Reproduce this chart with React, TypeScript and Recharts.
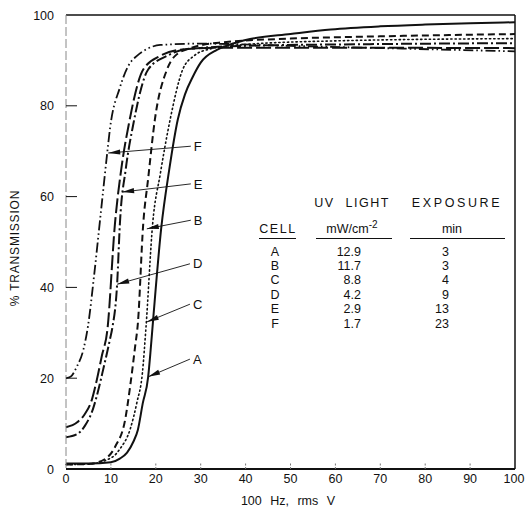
import { LineChart, Line, XAxis, YAxis, ReferenceLine, Label } from "recharts";

interface Pt {
  volts: number;
  pct: number;
}

const X_TICKS = [0, 10, 20, 30, 40, 50, 60, 70, 80, 90, 100];
const Y_TICKS = [0, 20, 40, 60, 80, 100];

const toPts = (rows: number[][]): Pt[] => rows.map(([volts, pct]) => ({ volts, pct }));

// curves, [rms V, % transmission]
const CELL_A = toPts([
  [0, 1.2], [5, 1.2], [10, 1.5], [12, 2.3], [13.6, 3.6], [15, 6], [16, 8.6],
  [17.1, 14.5], [18.3, 20.3], [18.8, 25.6], [19.4, 32.8], [21.2, 53], [23, 66],
  [24.9, 77], [26.5, 82.5], [28.3, 86.5], [30, 89.5], [33.6, 92.3], [36, 93.3],
  [41, 94.7], [50, 95.8], [59, 96.8], [70, 97.5], [80, 97.9], [90, 98.2], [100, 98.4],
]);
const CELL_B = toPts([
  [0, 1.0], [5, 1.1], [8.7, 2.2], [11, 5], [13.2, 11], [14.3, 18.3], [15.4, 27],
  [16, 32], [17.2, 54], [18.3, 64], [19.8, 77], [22.5, 88], [24.3, 91], [28, 92.8],
  [35, 94], [50, 94.8], [70, 95.3], [100, 95.8],
]);
const CELL_C = toPts([
  [0, 1.0], [5, 1.1], [10.3, 2.6], [12, 4.4], [14.3, 8.8], [15.8, 14.7], [17, 21],
  [17.8, 31], [19.3, 54], [21, 65], [23.2, 77], [26, 88], [28.5, 91], [32, 92.5],
  [40, 93.5], [60, 94.3], [100, 94.8],
]);
const CELL_D = toPts([
  [0, 7], [2.5, 7.7], [4.2, 9.5], [6, 13.2], [7.1, 17], [8.3, 22], [9.8, 28.6],
  [10.3, 31], [11.4, 41], [12, 54], [13.3, 66], [15, 76], [18.3, 88], [22.5, 91],
  [27, 92.5], [40, 93.2], [70, 93.6], [100, 93.8],
]);
const CELL_E = toPts([
  [0, 9.2], [2.5, 10.3], [4.2, 12.1], [5.8, 15.4], [6.9, 19.8], [8, 25], [9.2, 30.5],
  [10.9, 54], [12.3, 66], [14, 76], [17.2, 88], [21, 91], [25, 92.3], [35, 92.8],
  [60, 92.8], [100, 92.7],
]);
const CELL_F = toPts([
  [0, 20], [1, 20.3], [2.4, 22.5], [3.9, 26.4], [4.9, 31.5], [6.3, 43], [7.6, 55],
  [9.2, 69.8], [9.8, 75], [12, 84], [14, 89], [15.8, 91], [18, 92.5], [21, 93.4],
  [30, 93.7], [50, 93.2], [75, 92.6], [100, 92.0],
]);

// legend table
const CELLS = ["A", "B", "C", "D", "E", "F"];
const UV_LIGHT = ["12.9", "11.7", "8.8", "4.2", "2.9", "1.7"];
const EXPOSURE = ["3", "3", "4", "9", "13", "23"];

// callout arrows: label end -> tip, in data units
const CALLOUTS = [
  { letter: "F", from: { x: 27.8, y: 71.1 }, to: { x: 9.4, y: 69.6 } },
  { letter: "E", from: { x: 27.8, y: 62.8 }, to: { x: 12.5, y: 61 } },
  { letter: "B", from: { x: 27.8, y: 54.8 }, to: { x: 18, y: 52.9 } },
  { letter: "D", from: { x: 27.6, y: 45.2 }, to: { x: 11.4, y: 40.7 } },
  { letter: "C", from: { x: 27.6, y: 36.3 }, to: { x: 18, y: 32.4 } },
  { letter: "A", from: { x: 27.6, y: 24.2 }, to: { x: 18.3, y: 20.3 } },
];

const SERIES = [
  { name: "A", data: CELL_A, dash: undefined, width: 2 },
  { name: "B", data: CELL_B, dash: "7 4", width: 2 },
  { name: "C", data: CELL_C, dash: "1.3 3", width: 1.6 },
  { name: "D", data: CELL_D, dash: "11 3 2 3", width: 2 },
  { name: "E", data: CELL_E, dash: "15 4", width: 2 },
  { name: "F", data: CELL_F, dash: "10 3 1.6 3 1.6 3", width: 1.8 },
];

const FONT = "'Liberation Sans', Arial, sans-serif";
const INK = "#111";

const YTick = (props: any) => {
  const { x, y, payload } = props;
  const v = payload.value;
  return (
    <g>
      {v > 0 && v < 100 && <line x1={x} x2={x + 11} y1={y} y2={y} stroke={INK} strokeWidth={1} />}
      <text x={x - 12} y={y} dy="0.36em" textAnchor="end" fontSize={12.5} fontFamily={FONT} fill={INK}>
        {v}
      </text>
    </g>
  );
};

const XTick = (props: any) => {
  const { x, y, payload } = props;
  const v = payload.value;
  return (
    <g>
      {v > 0 && v < 100 && (
        <line x1={x} x2={x} y1={y} y2={y - 7} stroke="#777" strokeWidth={1} strokeDasharray="2 1.5" />
      )}
      <text x={x} y={y + 14} textAnchor="middle" fontSize={12.5} fontFamily={FONT} fill={INK}>
        {v}
      </text>
    </g>
  );
};

const arrowShape = (letter: string) => (props: any) => {
  const { x1, y1, x2, y2 } = props;
  const dx = x2 - x1;
  const dy = y2 - y1;
  const len = Math.hypot(dx, dy) || 1;
  const ux = dx / len;
  const uy = dy / len;
  const hl = 12;
  const hw = 2.6;
  const bx = x2 - ux * hl;
  const by = y2 - uy * hl;
  const pts = `${x2},${y2} ${bx - uy * hw},${by + ux * hw} ${bx + uy * hw},${by - ux * hw}`;
  return (
    <g>
      <line x1={x1} y1={y1} x2={x2} y2={y2} stroke={INK} strokeWidth={0.9} />
      <polygon points={pts} fill={INK} />
      <text x={x1 + 3} y={y1} dy="0.36em" fontSize={13} fontFamily={FONT} fill={INK}>
        {letter}
      </text>
    </g>
  );
};

const centered = (x: number, y: number): React.CSSProperties => ({
  position: "absolute",
  left: x,
  top: y,
  transform: "translate(-50%, -50%)",
  whiteSpace: "nowrap",
  lineHeight: 1,
});

const rightAt = (x: number, y: number): React.CSSProperties => ({
  position: "absolute",
  right: 526 - x,
  top: y,
  transform: "translateY(-50%)",
  whiteSpace: "nowrap",
  lineHeight: 1,
});

const rule = (x1: number, x2: number, y: number): React.CSSProperties => ({
  position: "absolute",
  left: x1,
  top: y,
  width: x2 - x1,
  height: 1.3,
  background: INK,
});

export default function App() {
  const rowY = (i: number) => 251.5 + i * 14.4;
  return (
    <div
      style={{
        position: "absolute",
        left: 0,
        top: 0,
        width: 526,
        height: 517,
        background: "#fff",
        fontFamily: FONT,
        color: INK,
        fontSize: 12.5,
      }}
    >
      <LineChart width={526} height={517} margin={{ top: 15, right: 11, bottom: 0, left: 0 }}>
        <XAxis
          type="number"
          dataKey="volts"
          domain={[0, 100]}
          ticks={X_TICKS}
          height={48}
          tickSize={0}
          tickMargin={0}
          tickLine={false}
          tick={<XTick />}
          axisLine={{ stroke: INK, strokeWidth: 2 }}
          allowDuplicatedCategory={false}
        >
          <Label
            content={() => (
              <text x={288} y={505} textAnchor="middle" fontSize={12.5} fontFamily={FONT} fill={INK} wordSpacing={5}>
                100 Hz, rms V
              </text>
            )}
          />
        </XAxis>
        <YAxis
          type="number"
          domain={[0, 100]}
          ticks={Y_TICKS}
          width={66}
          tickSize={0}
          tickMargin={0}
          tickLine={false}
          tick={<YTick />}
          axisLine={{ stroke: "#888", strokeWidth: 1, strokeDasharray: "9 3" }}
        >
          <Label
            content={() => (
              <text
                x={15}
                y={248}
                transform="rotate(-90 15 248)"
                textAnchor="middle"
                dy="0.36em"
                fontSize={12}
                letterSpacing={0.8}
                fontFamily={FONT}
                fill={INK}
              >
                % TRANSMISSION
              </text>
            )}
          />
        </YAxis>
        <ReferenceLine y={100} stroke={INK} strokeWidth={1.5} />
        <ReferenceLine x={100} stroke={INK} strokeWidth={1.5} />
        {SERIES.map((s) => (
          <Line
            key={s.name}
            data={s.data}
            dataKey="pct"
            type="monotone"
            stroke={INK}
            strokeWidth={s.width}
            strokeDasharray={s.dash}
            strokeLinecap={s.name === "C" ? "round" : "butt"}
            dot={false}
            activeDot={false}
            isAnimationActive={false}
          />
        ))}
        {CALLOUTS.map((c) => (
          <ReferenceLine key={c.letter} segment={[c.from, c.to]} shape={arrowShape(c.letter)} />
        ))}
      </LineChart>

      <div style={{ ...centered(352, 203), letterSpacing: 1.5, wordSpacing: 6 }}>UV LIGHT</div>
      <div style={{ ...centered(457, 203), letterSpacing: 2.6 }}>EXPOSURE</div>
      <div style={{ ...centered(278, 229), letterSpacing: 1.6 }}>CELL</div>
      <div style={centered(352, 228)}>
        mW/cm<sup style={{ fontSize: 10, verticalAlign: 5 }}>-2</sup>
      </div>
      <div style={centered(452, 229)}>min</div>
      <div style={rule(259, 296, 238)} />
      <div style={rule(316, 392, 238)} />
      <div style={rule(410, 505, 238)} />
      {CELLS.map((c, i) => (
        <div key={c}>
          <div style={centered(275, rowY(i))}>{c}</div>
          <div style={rightAt(361, rowY(i))}>{UV_LIGHT[i]}</div>
          <div style={rightAt(449, rowY(i))}>{EXPOSURE[i]}</div>
        </div>
      ))}
    </div>
  );
}
